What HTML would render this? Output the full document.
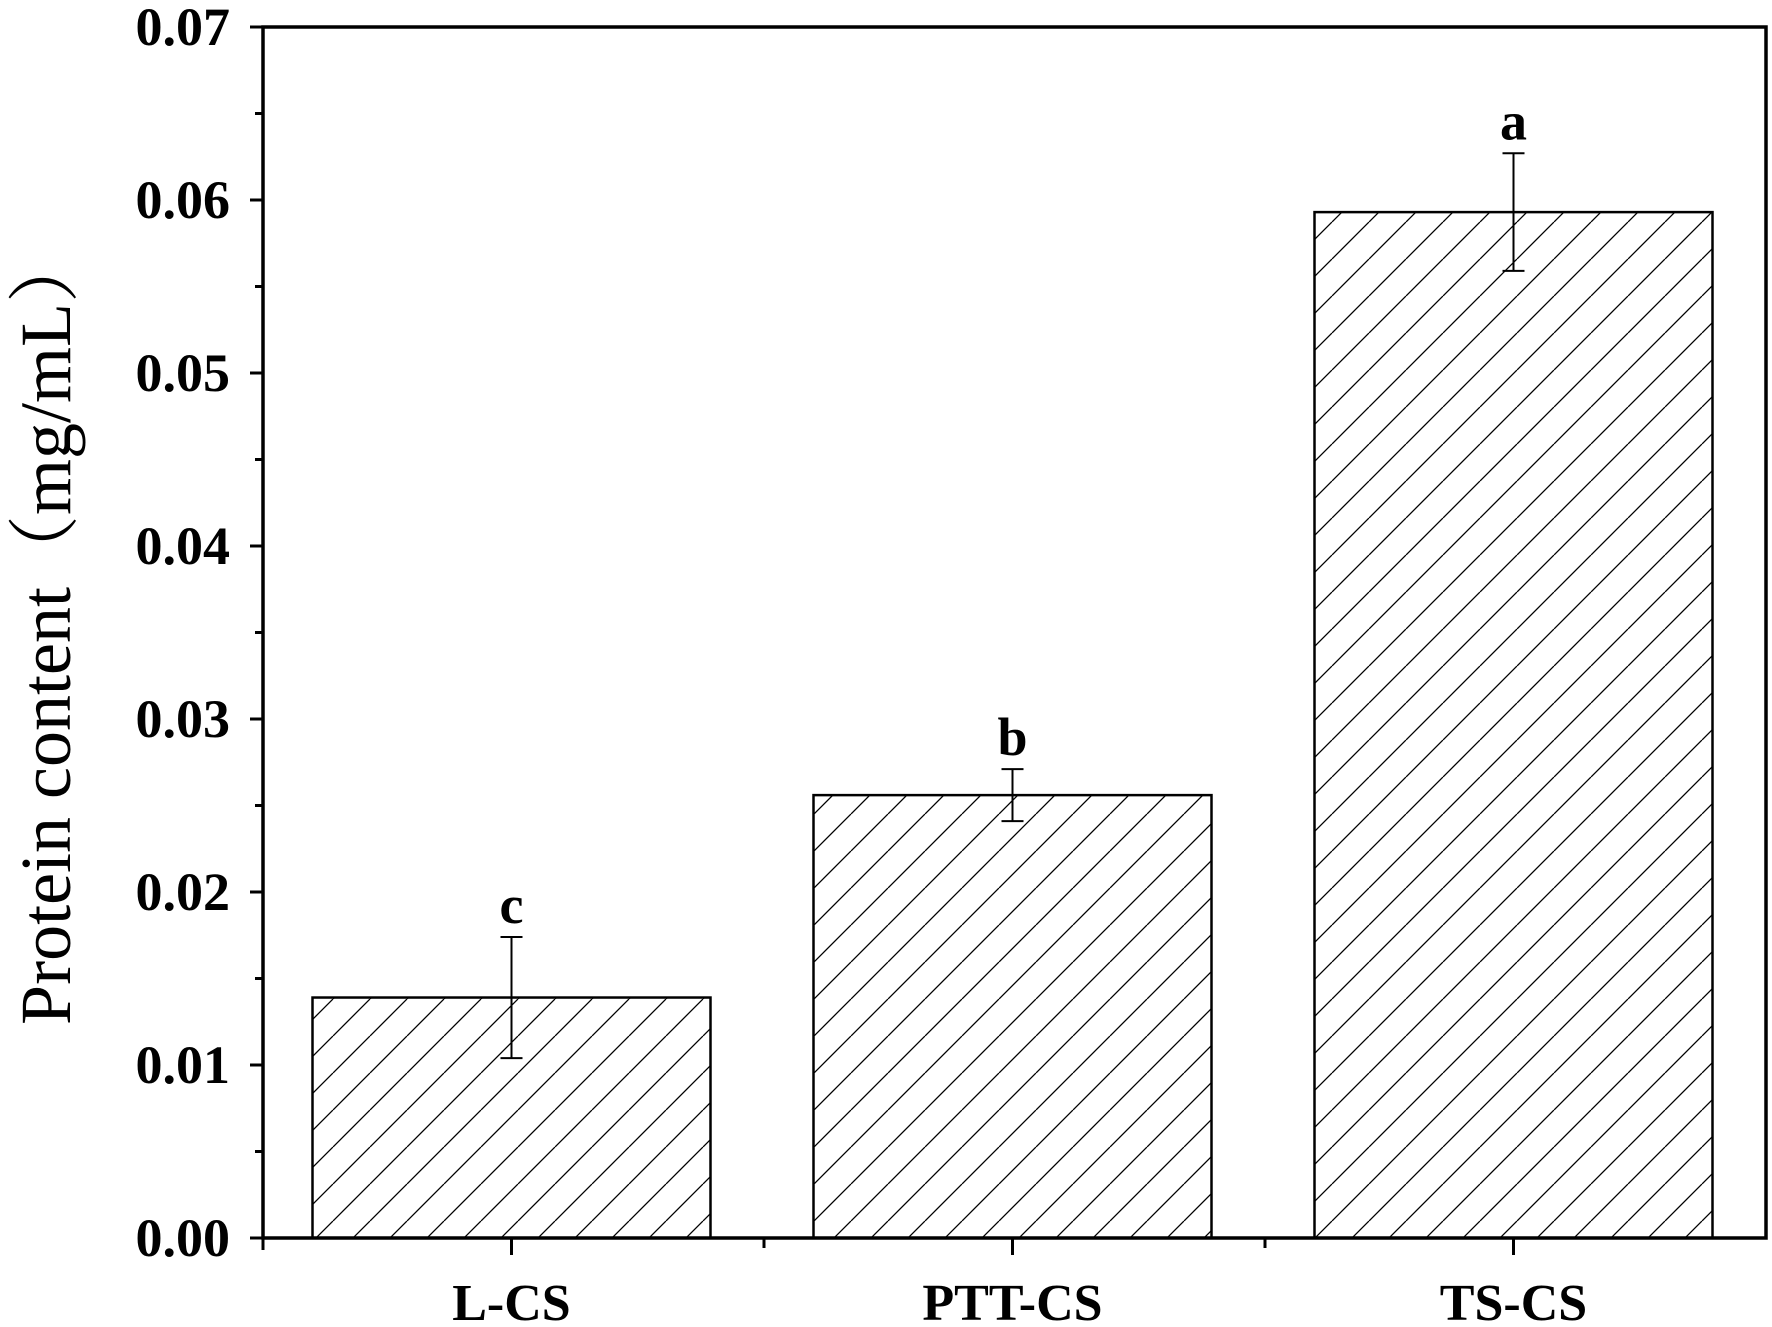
<!DOCTYPE html>
<html><head><meta charset="utf-8"><style>
html,body{margin:0;padding:0;background:#fff;}
svg{display:block;}
text{font-family:"Liberation Serif","Noto Serif CJK SC",serif;fill:#000;}
</style></head><body>
<svg id="chart" width="1772" height="1327" viewBox="0 0 1772 1327" xmlns="http://www.w3.org/2000/svg">
<defs>
<pattern id="hatch" patternUnits="userSpaceOnUse" width="37" height="37">
<line x1="0" y1="37" x2="37" y2="0" stroke="#000" stroke-width="1.3"/>
<line x1="-37" y1="37" x2="0" y2="0" stroke="#000" stroke-width="1.3"/>
<line x1="37" y1="37" x2="74" y2="0" stroke="#000" stroke-width="1.3"/>
</pattern>
</defs>
<g id="plot"></g>
<text transform="translate(70,628) rotate(-90)" text-anchor="middle" font-size="72">Protein content（mg/mL）</text>
</svg>
<script>
const categories = ["L-CS","PTT-CS","TS-CS"];
const values = [0.0139, 0.0256, 0.0593];
const errors = [0.0035, 0.0015, 0.0034];
const letters = ["c","b","a"];
const yTicks = [0,0.01,0.02,0.03,0.04,0.05,0.06,0.07];
const yTickLabels = ["0.00","0.01","0.02","0.03","0.04","0.05","0.06","0.07"];

const L=263,R=1766,T=27,B=1238,yMax=0.07;
const NS="http://www.w3.org/2000/svg";
const g=document.getElementById('plot');
const y=v=>B-(v/yMax)*(B-T);
const band=(R-L)/categories.length;
const xc=i=>L+band*(i+0.5)-2;
const barW=398;
function mk(t,a){const e=document.createElementNS(NS,t);for(const k in a)e.setAttribute(k,a[k]);g.appendChild(e);return e;}

categories.forEach((c,i)=>{
  const v=values[i],x0=xc(i)-barW/2;
  const r=mk('rect',{x:x0,y:y(v),width:barW,height:B-y(v),fill:'url(#hatch)',stroke:'#000','stroke-width':2.5});
  
  
  const e1=mk('line',{x1:xc(i),x2:xc(i),y1:y(v+errors[i]),y2:y(v-errors[i]),stroke:'#000','stroke-width':2});
  
  
  [v+errors[i],v-errors[i]].forEach(ev=>{mk('line',{x1:xc(i)-11,x2:xc(i)+11,y1:y(ev),y2:y(ev),stroke:'#000','stroke-width':2});});
  const lt=mk('text',{x:xc(i),y:y(v+errors[i])-14,'text-anchor':'middle','font-size':54,'font-weight':'bold'});
  lt.textContent=letters[i];
  
  
  const ct=mk('text',{x:xc(i),y:1320,'text-anchor':'middle','font-size':52,'font-weight':'bold'});
  ct.textContent=c;
  
  
  mk('line',{x1:xc(i),x2:xc(i),y1:B,y2:B+17,stroke:'#000','stroke-width':3});
});
for(let i=1;i<categories.length;i++){const xx=L+band*i;mk('line',{x1:xx,x2:xx,y1:B,y2:B+10,stroke:'#000','stroke-width':3});}
mk('line',{x1:L,x2:L,y1:B,y2:B+12,stroke:'#000','stroke-width':3});

yTicks.forEach((t,i)=>{
  mk('line',{x1:L-13,x2:L,y1:y(t),y2:y(t),stroke:'#000','stroke-width':3});
  if(i<yTicks.length-1){const m=(t+yTicks[i+1])/2;mk('line',{x1:L-8,x2:L,y1:y(m),y2:y(m),stroke:'#000','stroke-width':3});}
  const tl=mk('text',{x:L-33,y:y(t)+18,'text-anchor':'end','font-size':54,'font-weight':'bold'});
  tl.textContent=yTickLabels[i];
  
  
});
const fr=mk('rect',{x:L,y:T,width:R-L,height:B-T,fill:'none',stroke:'#000','stroke-width':3.5});


</script>
</body></html>
